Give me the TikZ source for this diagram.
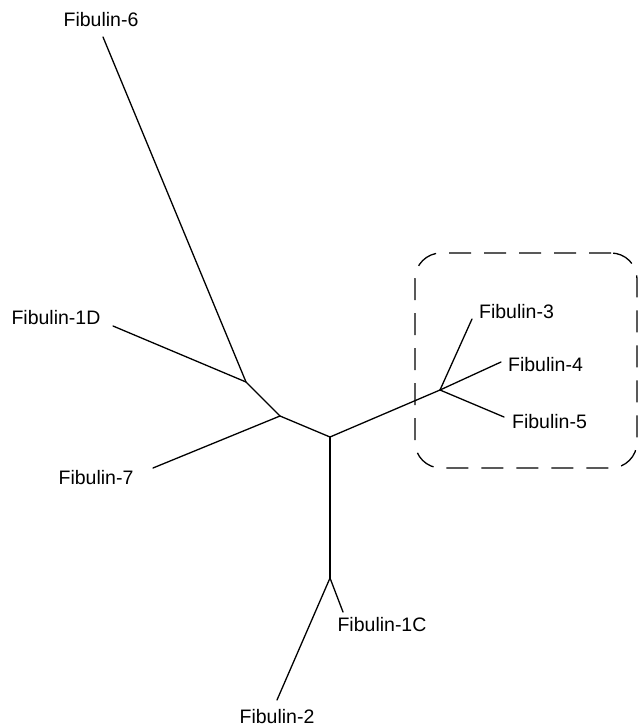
\documentclass[tikz,border=0pt]{standalone}
\usepackage{fontspec}
\setmainfont{Liberation Sans}
\begin{document}
\begin{tikzpicture}[x=1pt,y=-1pt,
  branch/.style={line width=1.3pt, line cap=round},
  lbl/.style={font=\fontsize{19.5}{22}\selectfont, inner sep=0pt},
  group/.style={line width=1.3pt, dash pattern=on 22pt off 13pt, rounded corners=26pt}]
\useasboundingbox (0,0) rectangle (638,727);
% junctions
\coordinate (j1) at (246,382);
\coordinate (j2) at (280,416);
\coordinate (j3) at (330,437);
\coordinate (j4) at (330,578);
\coordinate (j5) at (440,390);
% tips
\coordinate (t6) at (103,37);
\coordinate (t1D) at (113,326);
\coordinate (t7) at (153,468);
\coordinate (t1C) at (343,612);
\coordinate (t2) at (277,700);
\coordinate (t3) at (472,319);
\coordinate (t4) at (501,362);
\coordinate (t5) at (504,417);
% labels
\node[lbl] (l6) at (101,20) {Fibulin-6};
\node[lbl] (l1D) at (56,318) {Fibulin-1D};
\node[lbl] (l7) at (96,477.5) {Fibulin-7};
\node[lbl] (l1C) at (382,624.5) {Fibulin-1C};
\node[lbl] (l2) at (277,716.5) {Fibulin-2};
\node[lbl] (l3) at (516.5,311.5) {Fibulin-3};
\node[lbl] (l4) at (545.5,365) {Fibulin-4};
\node[lbl] (l5) at (549.5,422) {Fibulin-5};
% branches
\draw[branch] (t6) -- (j1);
\draw[branch] (t1D) -- (j1);
\draw[branch] (j1) -- (j2);
\draw[branch] (t7) -- (j2);
\draw[branch] (j2) -- (j3);
\draw[branch] (j3) -- (j4);
\draw[branch] (j4) -- (t1C);
\draw[branch] (j4) -- (t2);
\draw[branch] (j3) -- (j5);
\draw[branch] (j5) -- (t3);
\draw[branch] (j5) -- (t4);
\draw[branch] (j5) -- (t5);
% group box
\node[group, draw, minimum width=222pt, minimum height=215pt, inner sep=0pt] (box) at (526,360.5) {};
\end{tikzpicture}
\end{document}
